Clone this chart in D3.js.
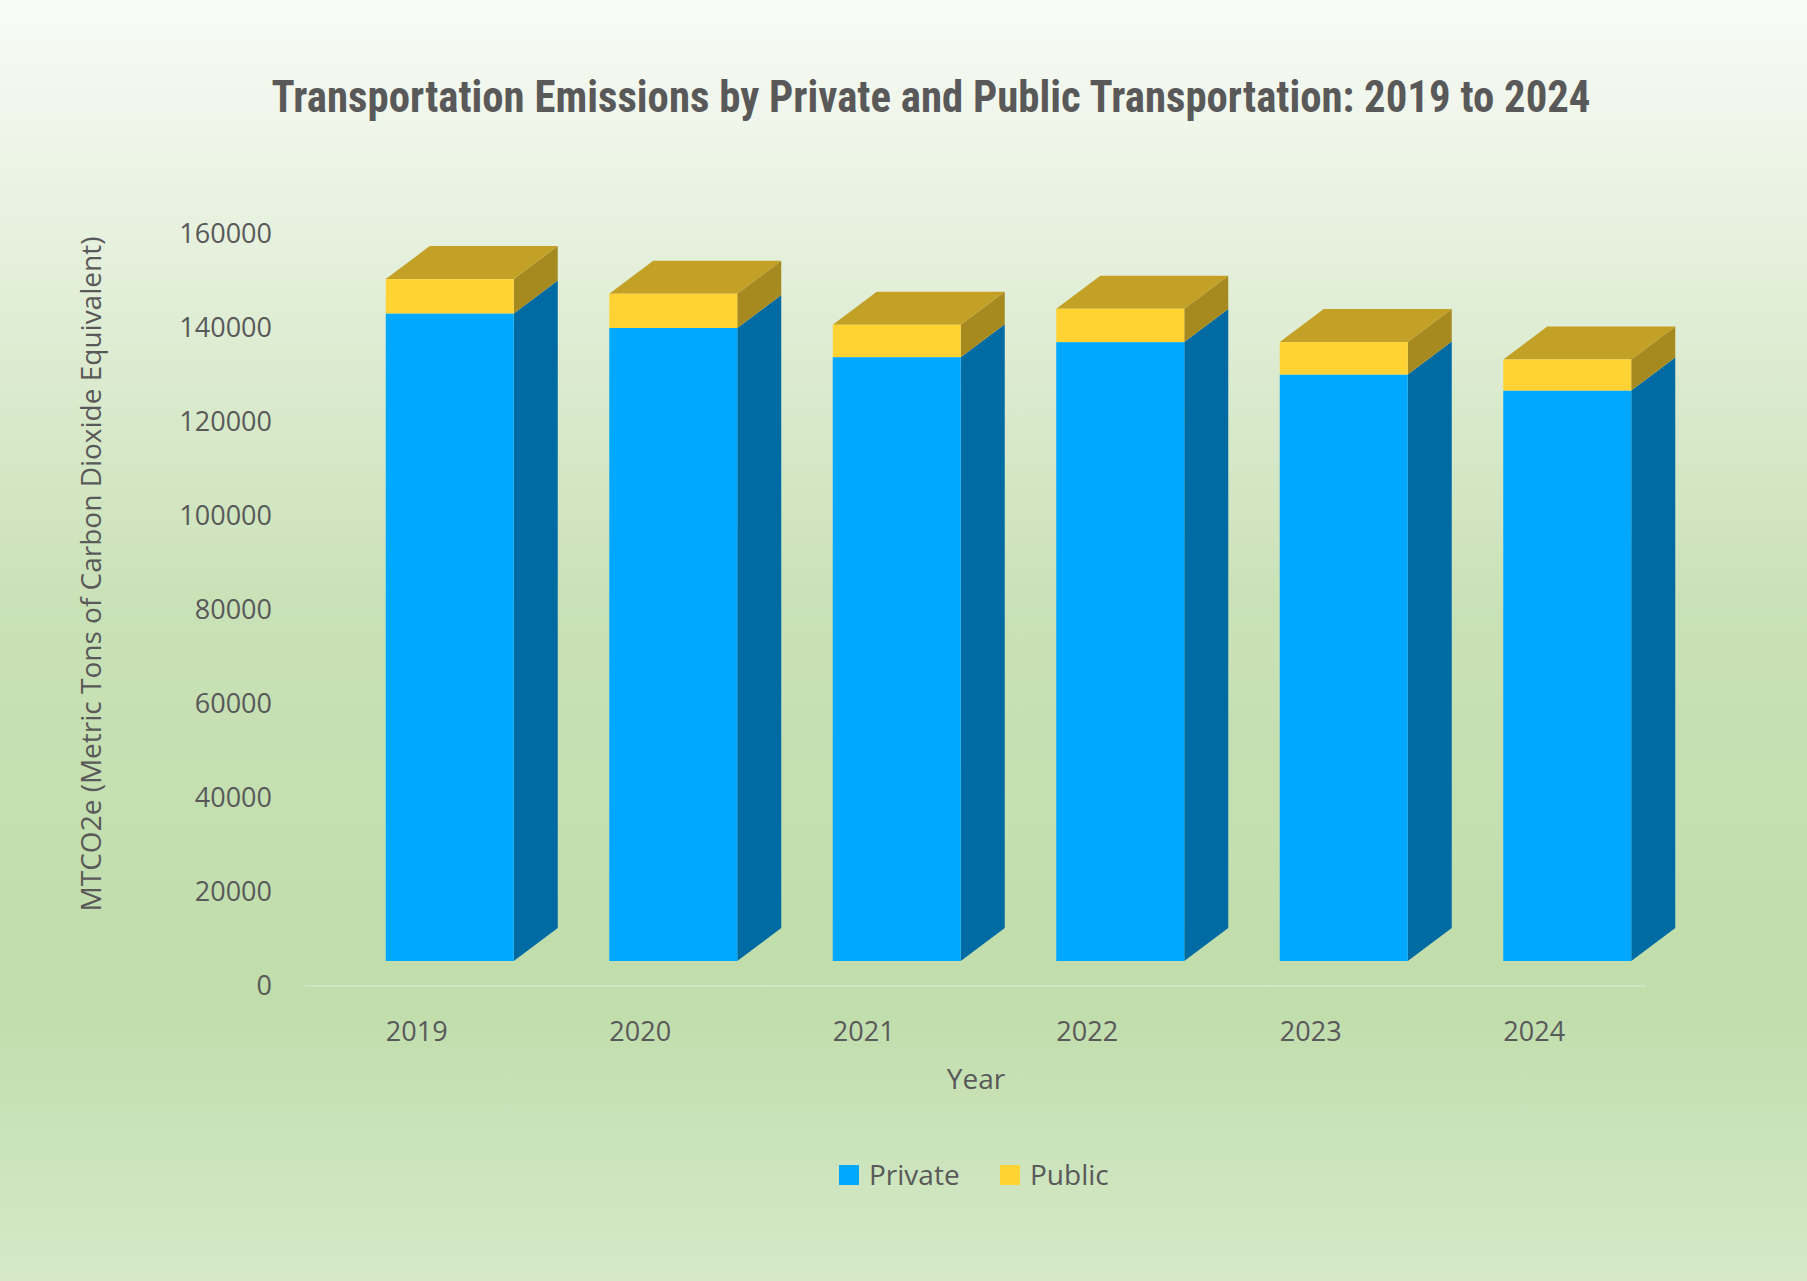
<!DOCTYPE html>
<html><head><meta charset="utf-8">
<script src="https://cdn.jsdelivr.net/npm/d3@7"></script>
<style>body{margin:0;} svg{display:block;}</style>
</head><body>
<script>
var years = ['2019', '2020', '2021', '2022', '2023', '2024'];
var privateVals = [143100, 140000, 133800, 137000, 130100, 126700];
var publicVals = [7300, 7300, 6900, 7100, 6900, 6600];
var yTicks = [0, 20000, 40000, 60000, 80000, 100000, 120000, 140000, 160000];

var W = 1807, H = 1281;
var svg = d3.select('body').append('svg').attr('width', W).attr('height', H);

var grad = svg.append('defs').append('linearGradient').attr('id', 'bg')
  .attr('x1', 0).attr('y1', 0).attr('x2', 0).attr('y2', 1);
grad.append('stop').attr('offset', '0').attr('stop-color', '#f9fbf7');
grad.append('stop').attr('offset', '0.48').attr('stop-color', '#c9e1b6');
grad.append('stop').attr('offset', '0.78').attr('stop-color', '#c0ddab');
grad.append('stop').attr('offset', '1').attr('stop-color', '#d5e9c9');
svg.append('rect').attr('width', W).attr('height', H).attr('fill', 'url(#bg)');

var x = d3.scaleBand().domain(years).range([305, 1646]);
var y = d3.scaleLinear().domain([0, 160000]).range([986, 234]);

var txt = '#595959';
svg.append('text').attr('x', 931).attr('y', 112).attr('text-anchor', 'middle')
  .attr('textLength', 1319).attr('lengthAdjust', 'spacingAndGlyphs')
  .style('font-family', '"Liberation Sans Narrow", "Roboto Condensed", "DejaVu Sans Condensed", sans-serif')
  .style('font-weight', 'bold').style('font-size', '44px').attr('fill', txt)
  .text('Transportation Emissions by Private and Public Transportation: 2019 to 2024');

var font = '"Open Sans", "Noto Sans", sans-serif';

// y ticks
svg.append('g').selectAll('text').data(yTicks).join('text')
  .attr('x', 272).attr('y', function (d) { return y(d); }).attr('dy', '0.35em')
  .attr('text-anchor', 'end').style('font-family', font).style('font-size', '27px')
  .attr('fill', txt).text(function (d) { return d; });

svg.append('line').attr('x1', 305).attr('x2', 1646).attr('y1', y(0)).attr('y2', y(0))
  .attr('stroke', '#d6e6cb').attr('stroke-width', 1.5);

// x labels
svg.append('g').selectAll('text').data(years).join('text')
  .attr('x', function (d) { return x(d) + x.bandwidth() / 2; }).attr('y', 1041)
  .attr('text-anchor', 'middle').style('font-family', font).style('font-size', '27px')
  .attr('fill', txt).text(function (d) { return d; });

svg.append('text').attr('x', 976).attr('y', 1089).attr('text-anchor', 'middle')
  .style('font-family', font).style('font-size', '28px').attr('fill', txt).text('Year');

svg.append('text').attr('transform', 'translate(101,574) rotate(-90)').attr('text-anchor', 'middle')
  .style('font-family', font).style('font-size', '28px').attr('fill', txt)
  .text('MTCO2e (Metric Tons of Carbon Dioxide Equivalent)');

// 3D bars
var bw = 128, dx = 44, dy = -33, floor = 25;
var g = svg.append('g');
years.forEach(function (yr, i) {
  var x0 = x(yr) + x.bandwidth() / 2 - 31;
  var x1 = x0 + bw;
  var yb = y(0) - floor;
  var yp = y(privateVals[i]) ;
  var yt = y(privateVals[i] + publicVals[i]);
  // side private
  g.append('polygon').attr('points', [[x1, yb], [x1 + dx, yb + dy], [x1 + dx, yp + dy], [x1, yp]].join(' '))
    .attr('fill', '#006ba3');
  // side public
  g.append('polygon').attr('points', [[x1, yp], [x1 + dx, yp + dy], [x1 + dx, yt + dy], [x1, yt]].join(' '))
    .attr('fill', '#a68a20');
  // top
  g.append('polygon').attr('points', [[x0, yt], [x0 + dx, yt + dy], [x1 + dx, yt + dy], [x1, yt]].join(' '))
    .attr('fill', '#c2a126');
  g.append('rect').attr('x', x0).attr('y', yp).attr('width', bw).attr('height', yb - yp).attr('fill', '#00a9ff');
  g.append('rect').attr('x', x0).attr('y', yt).attr('width', bw).attr('height', yp - yt).attr('fill', '#ffd333');
});

// legend
var leg = [['Private', '#00a9ff', 839], ['Public', '#ffd333', 1000]];
leg.forEach(function (l) {
  svg.append('rect').attr('x', l[2]).attr('y', 1165).attr('width', 20).attr('height', 20).attr('fill', l[1]);
  svg.append('text').attr('x', l[2] + 30).attr('y', 1175).attr('dy', '0.35em')
    .style('font-family', font).style('font-size', '28px').attr('fill', txt).text(l[0]);
});
</script>
</body></html>
